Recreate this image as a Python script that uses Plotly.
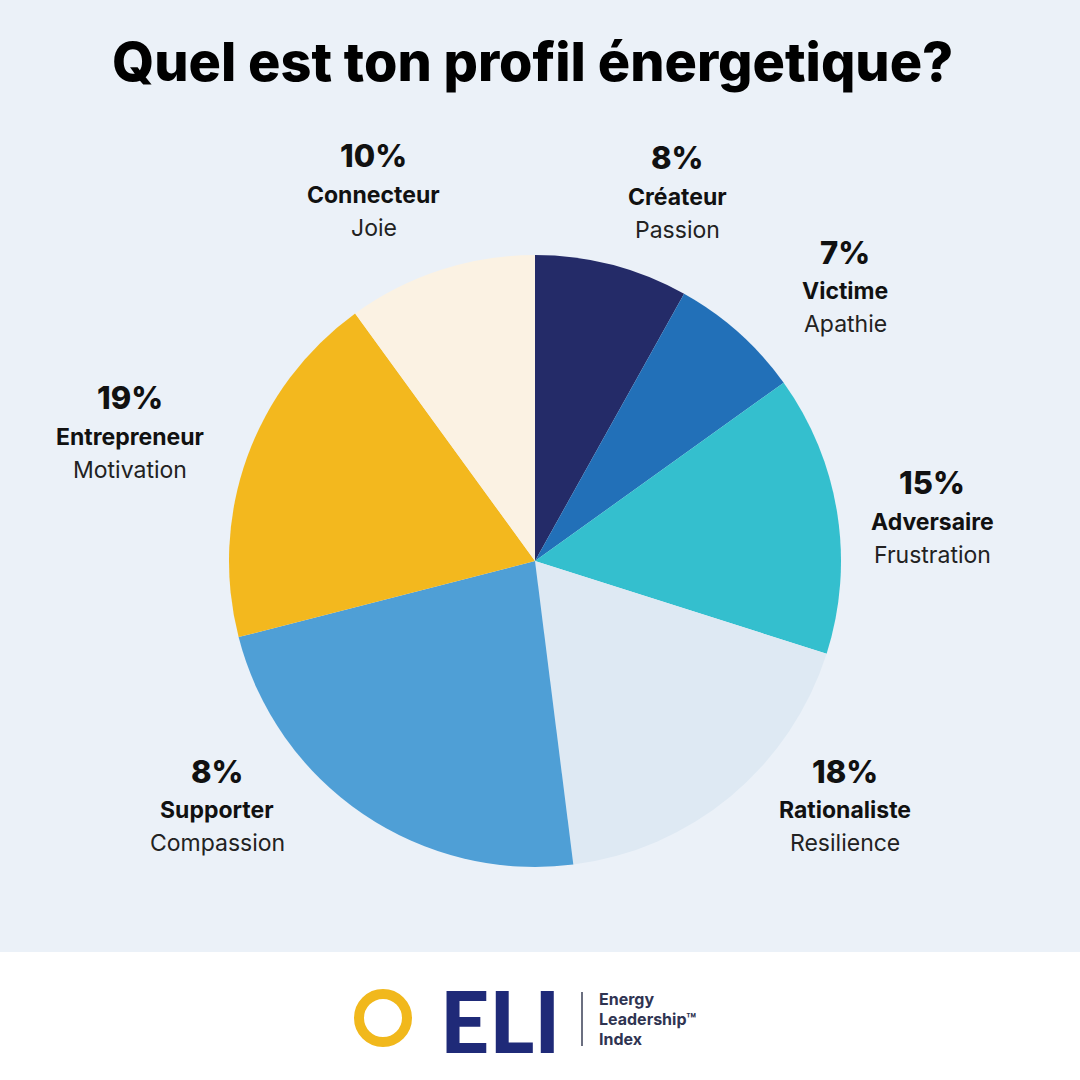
import plotly.graph_objects as go

# slice sizes as drawn (the printed percentages differ for "Supporter")
profiles = ["Créateur", "Victime", "Adversaire", "Rationaliste", "Supporter", "Entrepreneur", "Connecteur"]
slice_sizes = [8.1, 7.0, 14.8, 18.1, 23.0, 19.0, 10.0]
pct_labels = ["8%", "7%", "15%", "18%", "8%", "19%", "10%"]
emotions = ["Passion", "Apathie", "Frustration", "Resilience", "Compassion", "Motivation", "Joie"]
colors = ["#242B68", "#2270B8", "#34BFCE", "#DEE9F3", "#4F9FD6", "#F3B81E", "#FBF2E3"]

# label anchor (x, y) in pixels from top-left
label_pos = [(677, 158), (845, 252), (932, 483), (845, 771), (217, 771), (130, 398), (374, 156)]

W, H = 1080, 1080
FONT = "Inter"


def px(x, y):
    return x / W, 1 - y / H


fig = go.Figure()

# pie centre ~ (535, 561), radius ~306 px
cx, cy, r = 535, 561, 306
fig.add_trace(go.Pie(
    labels=profiles,
    values=slice_sizes,
    marker=dict(colors=colors, line=dict(width=0)),
    sort=False,
    direction="clockwise",
    rotation=0,
    textinfo="none",
    hoverinfo="label+value",
    showlegend=False,
    domain=dict(x=[(cx - r) / W, (cx + r) / W], y=[1 - (cy + r) / H, 1 - (cy - r) / H]),
))

annotations = []
for name, pct, emo, (x, y) in zip(profiles, pct_labels, emotions, label_pos):
    ax, ay = px(x, y)
    annotations.append(dict(x=ax, y=ay, text=pct, showarrow=False, xref="paper", yref="paper",
                            xanchor="center", yanchor="middle",
                            font=dict(family=FONT, size=31, color="#111111", weight=800)))
    ax, ay = px(x, y + 39)
    annotations.append(dict(x=ax, y=ay, text=name, showarrow=False, xref="paper", yref="paper",
                            xanchor="center", yanchor="middle",
                            font=dict(family=FONT, size=23, color="#111111", weight=700)))
    ax, ay = px(x, y + 72)
    annotations.append(dict(x=ax, y=ay, text=emo, showarrow=False, xref="paper", yref="paper",
                            xanchor="center", yanchor="middle",
                            font=dict(family=FONT, size=23, color="#222222", weight=400)))

# title
tx, ty = px(532, 62)
annotations.append(dict(x=tx, y=ty, text="Quel est ton profil énergetique?", showarrow=False,
                        xref="paper", yref="paper", xanchor="center", yanchor="middle",
                        font=dict(family=FONT, size=54, color="#000000", weight=800)))

# ELI logo
lx, ly = px(500, 1019)
annotations.append(dict(x=lx, y=ly, text="ELI", showarrow=False, xref="paper", yref="paper",
                        xanchor="center", yanchor="middle",
                        font=dict(family="Lato", size=86, color="#1F2A78", weight=900)))
for i, word in enumerate(["Energy", "Leadership™", "Index"]):
    wx, wy = px(597, 999 + 20 * i)
    annotations.append(dict(x=wx, y=wy, text=word, showarrow=False, xref="paper", yref="paper",
                            xanchor="left", yanchor="middle",
                            font=dict(family=FONT, size=16, color="#2F3452", weight=700)))

shapes = [
    # light blue panel behind the chart
    dict(type="rect", xref="paper", yref="paper", x0=0, x1=1, y0=1 - 952 / H, y1=1,
         fillcolor="#EBF1F8", line=dict(width=0), layer="below"),
    # yellow ring of the logo
    dict(type="circle", xref="paper", yref="paper",
         x0=(383 - 24) / W, x1=(383 + 24) / W, y0=1 - (1018 + 24) / H, y1=1 - (1018 - 24) / H,
         line=dict(color="#F1B81C", width=10), fillcolor="rgba(0,0,0,0)"),
    # separator line
    dict(type="line", xref="paper", yref="paper", x0=582 / W, x1=582 / W,
         y0=1 - 1046 / H, y1=1 - 992 / H, line=dict(color="#6B6F80", width=2)),
]

fig.update_layout(
    width=W, height=H,
    margin=dict(l=0, r=0, t=0, b=0),
    paper_bgcolor="#FFFFFF",
    plot_bgcolor="#FFFFFF",
    annotations=annotations,
    shapes=shapes,
)

# drop the default page margin so the figure sits flush in the window
fig.write_html("out.html", config={"displayModeBar": False},
               post_script="document.body.style.margin='0';")
